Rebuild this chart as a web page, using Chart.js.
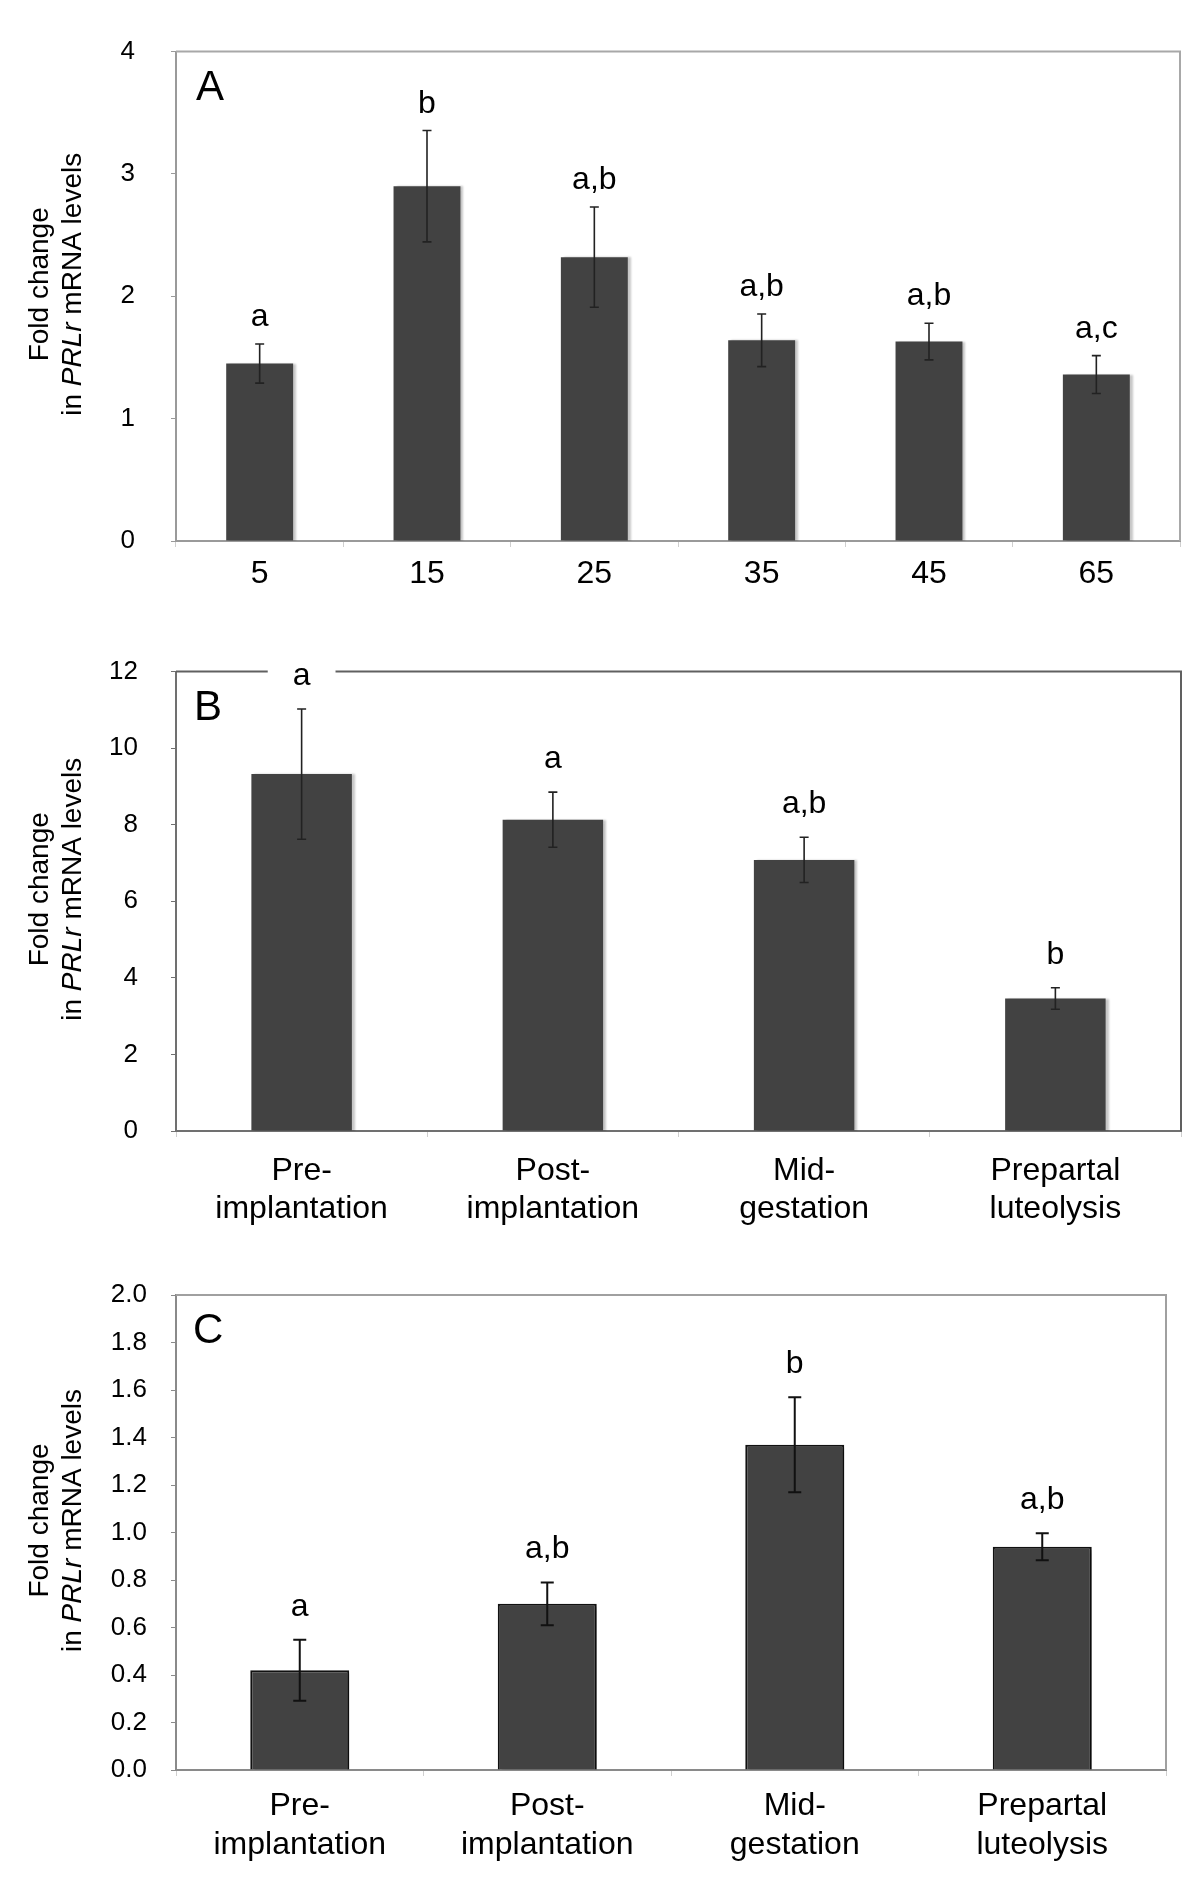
<!DOCTYPE html>
<html>
<head>
<meta charset="utf-8">
<script src="https://cdn.jsdelivr.net/npm/chart.js@4.4.1/dist/chart.umd.min.js"></script>
<style>
html, body { margin: 0; padding: 0; background: #fff; }
body { width: 1200px; height: 1881px; position: relative; overflow: hidden; }
canvas { position: absolute; left: 0; }
</style>
</head>
<body>
<canvas id="chartA" width="1200" height="615" style="top:0px"></canvas>
<canvas id="chartB" width="1200" height="630" style="top:615px"></canvas>
<canvas id="chartC" width="1200" height="636" style="top:1245px"></canvas>
<script>
const FONT = "'Liberation Sans', Arial, Helvetica, sans-serif";

// ---- panel A: days ----
const daysA = ["5", "15", "25", "35", "45", "65"];
const meanA = [1.45, 2.90, 2.32, 1.64, 1.63, 1.36];
const errA = [0.16, 0.455, 0.41, 0.215, 0.15, 0.155];
const lettersA = ["a", "b", "a,b", "a,b", "a,b", "a,c"];

// ---- panels B and C: stages ----
const stages = [
  ["Pre-", "implantation"],
  ["Post-", "implantation"],
  ["Mid-", "gestation"],
  ["Prepartal", "luteolysis"]
];
const meanB = [9.32, 8.13, 7.08, 3.46];
const errB = [1.70, 0.72, 0.59, 0.28];
const lettersB = ["a", "a", "a,b", "b"];

const meanC = [0.42, 0.70, 1.37, 0.94];
const errC = [0.128, 0.09, 0.20, 0.057];
const lettersC = ["a", "a,b", "b", "a,b"];

// y axis ranges
const yMaxA = 4, yStepA = 1;
const yMaxB = 12, yStepB = 2;
const yMaxC = 2, yStepC = 0.2;

// =========================
// extra drawing: frame, error bars, letters, titles
// =========================
function panelPlugin(p) {
  return {
    id: "panel",
    beforeDatasetsDraw(chart) {
      const { ctx, chartArea: a } = chart;
      ctx.save();
      ctx.strokeStyle = p.frame;
      ctx.lineWidth = 2;
      ctx.beginPath();
      ctx.moveTo(a.left, a.top);
      ctx.lineTo(a.right, a.top);
      ctx.lineTo(a.right, a.bottom);
      ctx.stroke();
      ctx.restore();

      // soft shadow to the right of the bars
      ctx.save();
      ctx.shadowColor = p.shadow;
      ctx.shadowOffsetX = p.shadowX;
      ctx.shadowOffsetY = p.shadowY;
      ctx.shadowBlur = 2;
    },
    afterDatasetsDraw(chart) {
      const { ctx, chartArea: a } = chart;
      ctx.restore();
      const y = chart.scales.y;
      const bars = chart.getDatasetMeta(0).data;

      // error bars
      ctx.save();
      ctx.strokeStyle = p.errColor;
      ctx.lineWidth = p.errWidth;
      bars.forEach((bar, i) => {
        const top = y.getPixelForValue(p.means[i] + p.errs[i]);
        const bot = y.getPixelForValue(p.means[i] - p.errs[i]);
        ctx.beginPath();
        ctx.moveTo(bar.x, top);
        ctx.lineTo(bar.x, bot);
        ctx.moveTo(bar.x - p.cap, top);
        ctx.lineTo(bar.x + p.cap, top);
        ctx.moveTo(bar.x - p.cap, bot);
        ctx.lineTo(bar.x + p.cap, bot);
        ctx.stroke();
      });
      ctx.restore();

      // significance letters
      ctx.save();
      ctx.font = "32px " + FONT;
      ctx.textAlign = "center";
      ctx.textBaseline = "alphabetic";
      bars.forEach((bar, i) => {
        const top = y.getPixelForValue(p.means[i] + p.errs[i]);
        const base = top - p.gap;
        const w = ctx.measureText(p.letters[i]).width;
        ctx.fillStyle = "#fff";
        ctx.fillRect(bar.x - w / 2 - 25, base - 27, w + 50, 33);
        ctx.fillStyle = "#000";
        ctx.fillText(p.letters[i], bar.x, base);
      });

      // panel letter
      ctx.textAlign = "left";
      ctx.font = "42px " + FONT;
      ctx.fillText(p.tag, a.left + p.tagDx, a.top + 48);

      // y axis title with italic gene name
      const cy = (a.top + a.bottom) / 2 - 12;
      ctx.translate(56.5, cy);
      ctx.rotate(-Math.PI / 2);
      ctx.textBaseline = "middle";
      ctx.textAlign = "center";
      ctx.font = "28px " + FONT;
      ctx.fillText("Fold change", 0, -16.5);
      const parts = [["in ", ""], ["PRLr", "italic "], [" mRNA levels", ""]];
      let total = 0;
      parts.forEach(pt => { ctx.font = pt[1] + "28px " + FONT; total += ctx.measureText(pt[0]).width; });
      let x = -total / 2;
      ctx.textAlign = "left";
      parts.forEach(pt => {
        ctx.font = pt[1] + "28px " + FONT;
        ctx.fillText(pt[0], x, 16.5);
        x += ctx.measureText(pt[0]).width;
      });
      ctx.restore();
    }
  };
}

function makePanel(id, p) {
  return new Chart(document.getElementById(id), {
    type: "bar",
    data: {
      labels: p.labels,
      datasets: [{
        data: p.means,
        backgroundColor: "#424242",
        borderColor: "#111",
        borderWidth: p.barBorder,
        barPercentage: 0.4,
        categoryPercentage: 1
      }]
    },
    options: {
      responsive: false,
      animation: false,
      devicePixelRatio: 1,
      layout: { padding: { top: p.top, right: p.right, left: 0, bottom: 0 } },
      plugins: { legend: { display: false }, tooltip: { enabled: false } },
      scales: {
        x: {
          grid: { drawOnChartArea: false, tickLength: 6, color: "#cfcfcf" },
          border: { color: p.axis, width: 2 },
          ticks: {
            color: "#000",
            font: { family: FONT, size: 32, lineHeight: p.xLine },
            padding: p.xPad,
            maxRotation: 0,
            autoSkip: false
          },
          afterFit: s => { s.height = p.xHeight; }
        },
        y: {
          min: 0,
          max: p.max,
          grid: { drawOnChartArea: false, tickLength: 5, color: p.axis },
          border: { color: p.axis, width: 2 },
          ticks: {
            stepSize: p.step,
            color: "#000",
            font: { family: FONT, size: 26 },
            padding: p.yPad,
            autoSkip: false,
            callback: v => p.step < 1 ? Number(v).toFixed(1) : v
          },
          afterFit: s => { s.width = 176; }
        }
      }
    },
    plugins: [panelPlugin(p)]
  });
}

makePanel("chartA", {
  labels: daysA, means: meanA, errs: errA, letters: lettersA,
  max: yMaxA, step: yStepA, tag: "A", tagDx: 20,
  top: 39, right: 20, xHeight: 74, xPad: 8, xLine: 1.2, yPad: 36,
  axis: "#9a9a9a", frame: "#a8a8a8", barBorder: 0,
  shadow: "rgba(0,0,0,0.22)", shadowX: 3, shadowY: 0,
  errColor: "#222", errWidth: 1.6, cap: 4.5, gap: 18
});

makePanel("chartB", {
  labels: stages, means: meanB, errs: errB, letters: lettersB,
  max: yMaxB, step: yStepB, tag: "B", tagDx: 18,
  top: 56.5, right: 19, xHeight: 114, xPad: 15, xLine: 1.2, yPad: 33,
  axis: "#707070", frame: "#606060", barBorder: 0,
  shadow: "rgba(0,0,0,0.22)", shadowX: 3, shadowY: 0,
  errColor: "#222", errWidth: 1.6, cap: 4.5, gap: 24
});

makePanel("chartC", {
  labels: stages, means: meanC, errs: errC, letters: lettersC,
  max: yMaxC, step: yStepC, tag: "C", tagDx: 17,
  top: 50, right: 34, xHeight: 111, xPad: 10, xLine: 1.23, yPad: 24,
  axis: "#8a8a8a", frame: "#a0a0a0", barBorder: 2,
  shadow: "rgba(0,0,0,0.25)", shadowX: 4, shadowY: 3,
  errColor: "#111", errWidth: 2, cap: 6.5, gap: 24
});
</script>
</body>
</html>
